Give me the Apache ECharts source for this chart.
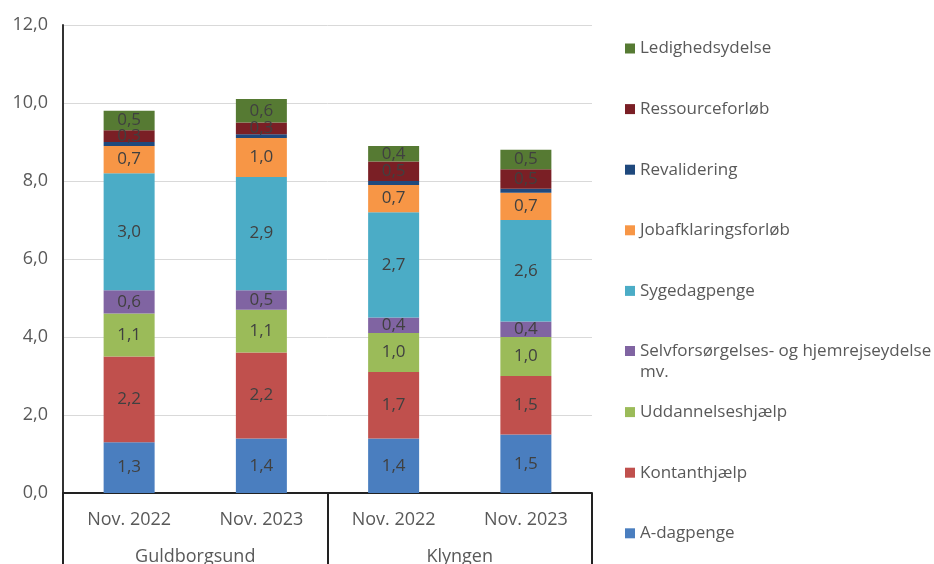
<!DOCTYPE html>
<html>
<head>
<meta charset="utf-8">
<script src="https://cdn.jsdelivr.net/npm/echarts@6/dist/echarts.min.js"></script>
<style>
  html, body { margin: 0; padding: 0; background: #fff; }
  #chart { width: 934px; height: 564px; }
</style>
</head>
<body>
<div id="chart"></div>
<script>
// data
const periods = ['Nov. 2022', 'Nov. 2023', 'Nov. 2022', 'Nov. 2023'];
const areas = ['Guldborgsund', 'Klyngen'];

const aDagpenge = [1.3, 1.4, 1.4, 1.5];
const kontanthjaelp = [2.2, 2.2, 1.7, 1.5];
const uddannelseshjaelp = [1.1, 1.1, 1.0, 1.0];
const selvforsorgelse = [0.6, 0.5, 0.4, 0.4];
const sygedagpenge = [3.0, 2.9, 2.7, 2.6];
const jobafklaring = [0.7, 1.0, 0.7, 0.7];
const revalidering = [0.1, 0.1, 0.1, 0.1];
const ressourceforloeb = [0.3, 0.3, 0.5, 0.5];
const ledighedsydelse = [0.5, 0.6, 0.4, 0.5];

const yTicks = [0, 2, 4, 6, 8, 10, 12];

const seriesDefs = [
    { name: 'A-dagpenge', data: aDagpenge, color: '#4a7ebf', label: true },
    { name: 'Kontanthjælp', data: kontanthjaelp, color: '#c0504d', label: true },
    { name: 'Uddannelseshjælp', data: uddannelseshjaelp, color: '#9bbb59', label: true },
    { name: 'Selvforsørgelses- og hjemrejseydelse mv.', data: selvforsorgelse, color: '#8064a2', label: true },
    { name: 'Sygedagpenge', data: sygedagpenge, color: '#4bacc6', label: true },
    { name: 'Jobafklaringsforløb', data: jobafklaring, color: '#f79646', label: true },
    { name: 'Revalidering', data: revalidering, color: '#1f497d', label: false },
    { name: 'Ressourceforløb', data: ressourceforloeb, color: '#7a1f25', label: true },
    { name: 'Ledighedsydelse', data: ledighedsydelse, color: '#567a33', label: true }
];

const longName = 'Selvforsørgelses- og hjemrejseydelse mv.';
const fmt = v => v.toFixed(1).replace('.', ',');

const chart = echarts.init(document.getElementById('chart'));

// one legend per entry so the spacing matches the reference
const legendOrder = seriesDefs.slice().reverse();
const legends = legendOrder.map((s, i) => {
    const isLong = s.name === longName;
    return {
        data: [s.name],
        orient: 'vertical',
        left: 620,
        top: 33 + i * 60.6,
        itemWidth: 10,
        itemHeight: isLong ? 32 : 10,
        itemGap: 0,
        // square kept at the top of a taller box so it lines up with the first line
        icon: isLong ? 'path://M0,0h10v10h-10z M0,32' : 'rect',
        selectedMode: false,
        textStyle: {
            color: '#595959',
            fontSize: 17,
            fontFamily: 'Open Sans',
            lineHeight: 21
        },
        formatter: name => name === longName
            ? 'Selvforsørgelses- og hjemrejseydelse\nmv.' : name
    };
});

const option = {
    animation: false,
    backgroundColor: '#fff',
    textStyle: { fontFamily: 'Open Sans' },
    legend: legends,
    grid: { left: 63, right: 342, top: 25, bottom: 71, containLabel: false, outerBoundsMode: 'none' },
    xAxis: [
        {
            type: 'category',
            data: periods,
            axisLine: { lineStyle: { color: '#222', width: 2 } },
            axisTick: { show: false },
            axisLabel: { color: '#595959', fontSize: 18, margin: 18 }
        },
        {
            type: 'category',
            data: areas,
            position: 'bottom',
            axisLine: { show: false },
            axisTick: { show: true, length: 75, lineStyle: { color: '#222', width: 2 } },
            axisLabel: { color: '#595959', fontSize: 18, margin: 55 }
        }
    ],
    yAxis: {
        type: 'value',
        min: yTicks[0],
        max: yTicks[yTicks.length - 1],
        interval: 2,
        axisLine: { show: true, lineStyle: { color: '#333', width: 2 } },
        axisTick: { show: false },
        splitLine: { lineStyle: { color: '#d9d9d9', width: 1 } },
        axisLabel: { color: '#595959', fontSize: 18, margin: 15, formatter: v => fmt(v) }
    },
    series: seriesDefs.map(s => ({
        name: s.name,
        type: 'bar',
        stack: 'total',
        barWidth: 51,
        data: s.data,
        itemStyle: { color: s.color },
        label: {
            show: s.label,
            position: 'inside',
            color: '#404040',
            fontSize: 17,
            formatter: p => fmt(p.value)
        }
    }))
};

chart.setOption(option);
</script>
</body>
</html>
